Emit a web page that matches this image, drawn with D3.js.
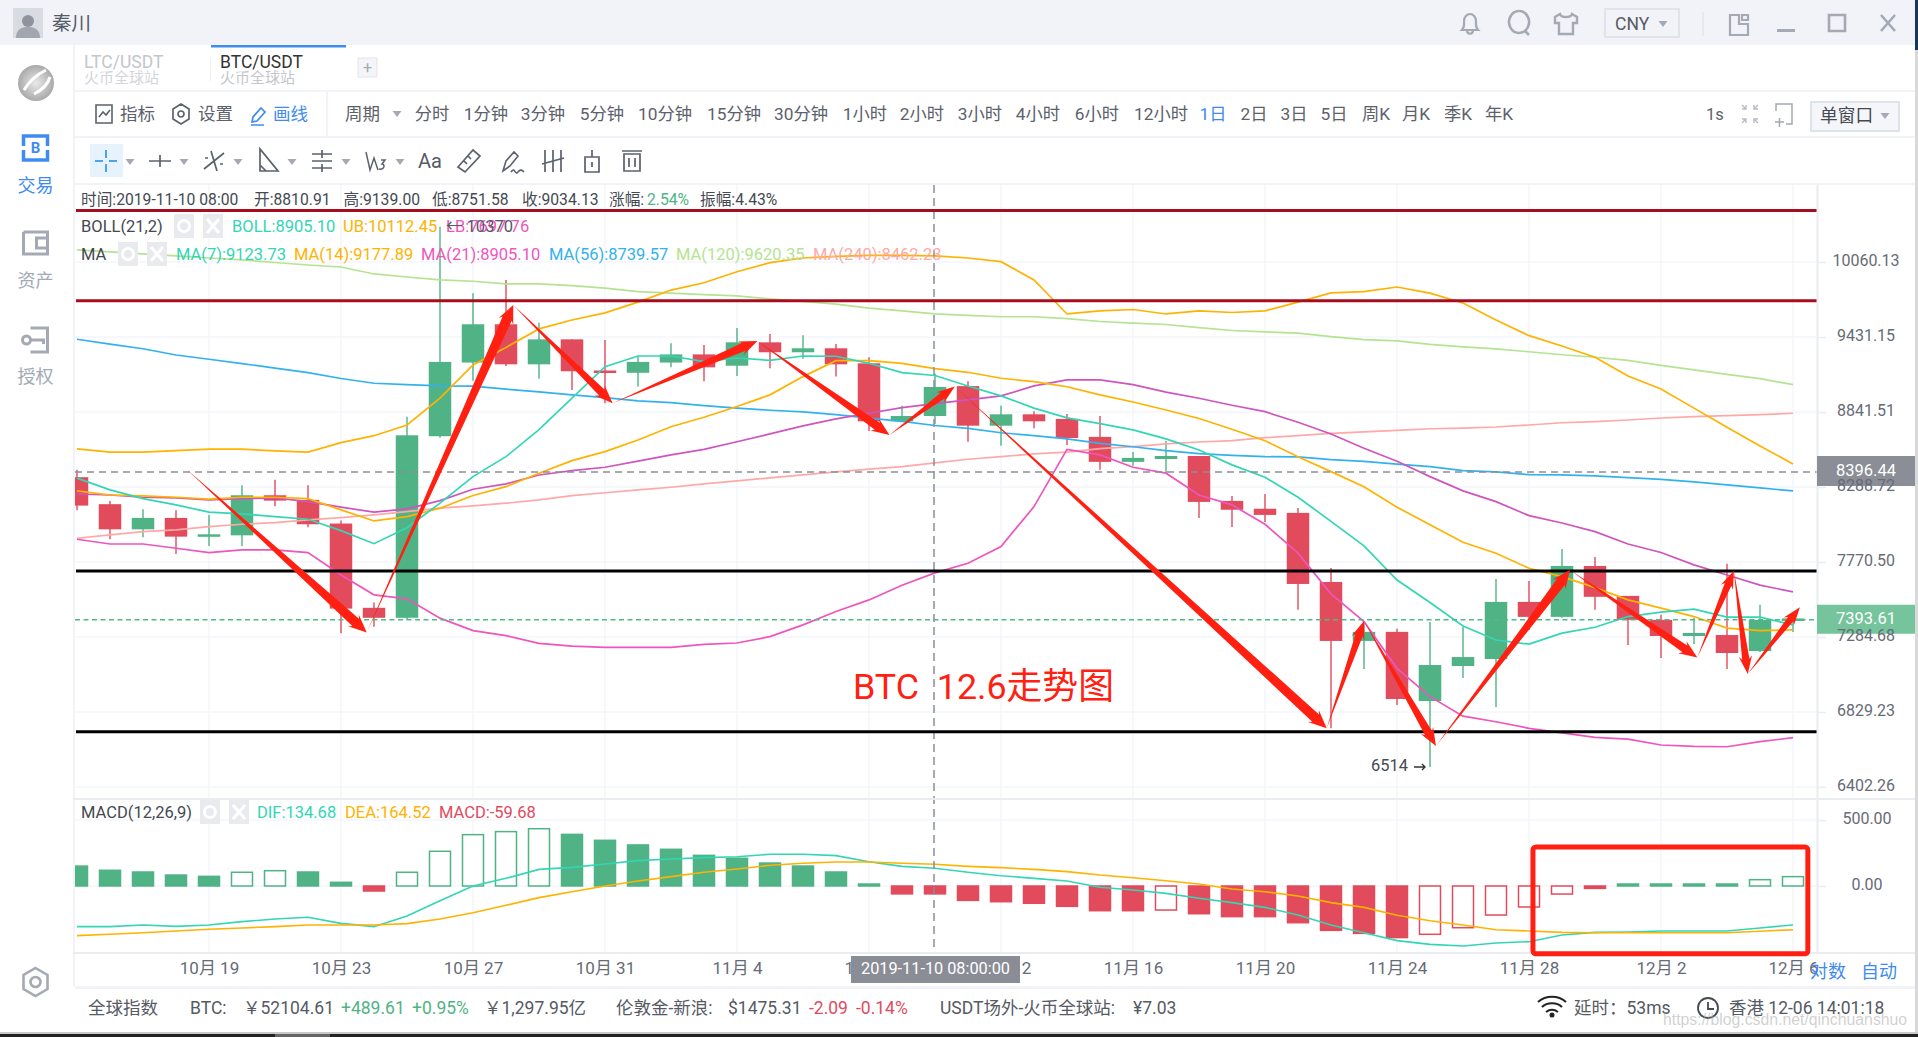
<!DOCTYPE html>
<html>
<head>
<meta charset="utf-8">
<script src="https://d3js.org/d3.v7.min.js"></script>
<style>
html, body { margin: 0; padding: 0; background: #fff; overflow: hidden; }
svg { display: block; font-family: Roboto, "Noto Sans CJK SC", sans-serif; }
text { white-space: pre; }
</style>
</head>
<body>
<div id="chart"></div>
<script>
// daily candles, 10-15 to 12-06
var opens  = [8359,8167,7992,8071,7942,7951,8230,8197,8032,7470,7406,8659,9226,9535,9212,9412,9163,9145,9226,9291,9201,9388,9308,9340,9220,8771,8810.91,9041,8738,8824,8789,8654,8470,8491,8513,8190,8135,8106,7638,7260,7317,6894,7105,7148,7508,7412,7744,7547,7393,7291,7297,7197,7386];
var highs  = [8412,8190,8131,8124,8091,8301,8340,8301,8053,7504,8806,10370,9793,9906,9548,9412,9407,9279,9381,9367,9505,9456,9445,9375,9268,8889,9139,9078,8889,8847,8827,8811,8543,8623,8513,8225,8239,8141,7731,7380,7336,7380,7348,7658,7645,7858,7804,7547,7425,7406,7758,7489,7402];
var lows   = [8124,7924,7938,7825,7879,7879,8153,8006,7309,7350,7393,8648,9083,9199,9099,9010,8909,9037,9188,9078,9119,9181,9257,9115,8698,8773,8751.58,8618,8589,8718,8594,8412,8441,8390,8071,8008,8043,7457,6735,7087,6870,6514,7032,6858,7329,7406,7457,7235,7154,7241,7087,7191,7316];
var closes = [8157,7992,8071,7942,7958,8230,8192,8027,7465,7406,8666,9231,9535,9212,9412,9157,9145,9231,9291,9188,9388,9308,9340,9212,8771,8811,9034.13,8738,8824,8771,8646,8470,8499,8513,8183,8128,8092,7625,7260,7317,6906,7111,7160,7508,7412,7744,7541,7393,7291,7310,7185,7393,7402];

var ma7   = [8352,8268,8206,8162,8111,8099,8080,8062,7983,7894,8003,8174,8363,8508,8709,8947,9193,9278,9278,9233,9262,9243,9278,9276,9220,9146,9123.73,9042,8965,8871,8797,8753,8706,8639,8557,8448,8359,8216,8047,7879,7651,7504,7354,7266,7240,7309,7346,7414,7442,7461,7410,7410,7361];
var ma14  = [8261,8232,8225,8216,8202,8216,8216,8206,8127,8050,8080,8139,8228,8291,8387,8479,8545,8631,8730,8802,8883,8973,9115,9241,9241,9220,9177.89,9149,9102,9076,9036,8973,8918,8857,8792,8711,8626,8508,8399,8291,8146,8023,7904,7829,7729,7673,7601,7521,7468,7414,7341,7325,7329];
var ma21  = [8239,8232,8216,8211,8197,8206,8211,8185,8146,8111,8134,8192,8273,8311,8375,8407,8431,8476,8521,8562,8618,8676,8736,8789,8832,8875,8905.10,8934,8965,9042,9089,9089,9052,8994,8947,8893,8844,8764,8676,8570,8474,8363,8261,8185,8087,8036,7976,7892,7834,7751,7684,7617,7573];
var ma56  = [9413,9374,9336,9286,9252,9218,9182,9147,9100,9063,9052,9042,9040,9017,8996,8973,8952,8926,8913,8890,8871,8855,8842,8822,8795,8770,8739.57,8718,8685,8663,8639,8606,8581,8552,8530,8518,8508,8506,8486,8474,8453,8436,8407,8397,8377,8375,8368,8356,8344,8325,8304,8282,8261];
var ma120 = [10166,10148,10131,10113,10095,10078,10056,10034,10017,9957,9931,9906,9895,9872,9872,9858,9836,9807,9794,9782,9771,9746,9724,9702,9669,9646,9620.35,9608,9597,9597,9581,9558,9544,9533,9508,9484,9473,9462,9434,9410,9399,9372,9351,9335,9312,9288,9268,9244,9204,9168,9132,9099,9052];
var ma240 = [7931,7954,7976,7988,8011,8027,8039,8057,8073,8092,8115,8139,8155,8174,8197,8227,8248,8268,8287,8311,8332,8354,8375,8397,8417,8436,8462.23,8489,8508,8528,8541,8567,8582,8602,8616,8626,8648,8663,8681,8692,8703,8715,8720,8728,8743,8760,8768,8781,8796,8806,8814,8821,8832];
var bollUp = [8565,8541,8541,8552,8563,8563,8550,8541,8611,8663,8743,8947,9207,9347,9497,9570,9629,9719,9820,9882,9976,10054,10095,10109,10118,10118,10112.45,10095,10063,9906,9620,9646,9657,9620,9646,9632,9646,9719,9796,9807,9846,9794,9711,9570,9442,9358,9268,9119,9019,8871,8726,8586,8455];
var bollLow = [7924,7892,7892,7863,7834,7852,7852,7834,7684,7554,7528,7404,7325,7293,7245,7228,7220,7220,7220,7239,7247,7287,7361,7446,7521,7617,7697.76,7762,7875,8150,8562,8521,8431,8388,8232,8162,8027,7830,7560,7382,7091,6920,6805,6772,6734,6708,6682,6672,6638,6630,6628,6657,6680];

var macdBars = [151,119,106,83,73,104,116,106,28,-38,104,263,389,412,434,391,346,311,278,232,210,174,151,106,15,-59.68,-59.68,-109,-119,-131,-154,-187,-187,-182,-210,-232,-232,-278,-336,-359,-391,-366,-316,-220,-159,-61,-18,15,15,15,15,48,71];
var dif = [-308,-308,-295,-306,-295,-270,-250,-237,-283,-308,-227,-111,0,58,126,141,167,192,205,215,222,240,240,230,184,149,134.68,104,78,58,38,-10,-30,-56,-93,-126,-162,-220,-295,-354,-414,-442,-455,-432,-422,-371,-351,-348,-341,-341,-341,-318,-295];
var dea = [-376,-366,-354,-341,-328,-318,-308,-295,-295,-295,-285,-250,-202,-146,-88,-43,0,38,71,104,129,157,172,182,182,172,164.52,149,139,126,109,83,63,40,15,-23,-43,-76,-126,-162,-222,-263,-295,-331,-341,-351,-354,-354,-354,-354,-354,-343,-331];

var priceTicks = [10060.13,9431.15,8841.51,8288.72,7770.50,7284.68,6829.23,6402.26];
var macdTicks = [500,0];
var dateTickIdx = [4,8,12,16,20,24,28,32,36,40,44,48,52];
var dateTickLabels = ["10月 19","10月 23","10月 27","10月 31","11月 4","11月 8","11月 12","11月 16","11月 20","11月 24","11月 28","12月 2","12月 6"];

var lastPrice = 7393.61, markPrice = 8396.44, crossIdx = 26;

// hand drawn marks on top of the chart
var levelPrices = [10516,9731,7711,6714];
var levelColors = ["#a60d1f","#a60d1f","#000","#000"];
var arrowIdx   = [3.32,8.78,13.22,16.23,20.62,24.62,26.6,37.87,39,41.18,45.24,49.1,50.21,50.63,52.21];
var arrowPrice = [8417,7313,9695,8909,9399,8668,9037,6734,7386,6632,7717,7158,7713,7056,7474];

var W = 1918, H = 1037;
var RED = "#e14b5c", GREEN = "#4fb386", TEAL = "#33d6b4", AMBER = "#ffb200", VIOLET = "#cf55bd",
    PINK = "#ee55bd", BLUE = "#33b1ee", LIME = "#b5e391", SALMON = "#ffa8a8", ARROW = "#ff2012",
    GRIDC = "#f3f6fa", LINEC = "#e9ecf1", TXT = "#5c616c", BLUEUI = "#3f8bef", DARK = "#444952";

var svg = d3.select("#chart").append("svg").attr("width", W).attr("height", H);

var x = d3.scaleLinear().domain([0, 52]).range([77, 1793]);
var yPrice = d3.scaleLog().domain([6402.26, 10060.13]).range([787, 262]);
var yMacd = d3.scaleLinear().domain([0, 500]).range([886, 820]);

function txt(px, py, s, color, size, anchor, g) {
  return (g || svg).append("text").attr("x", px).attr("y", py).attr("dy", "0.35em")
    .attr("fill", color).attr("font-size", size).attr("text-anchor", anchor || "start").text(s);
}
function box(px, py, w, h, fill) {
  return svg.append("rect").attr("x", px).attr("y", py).attr("width", w).attr("height", h).attr("fill", fill);
}
function icon(px, py, d, color, sw) {
  return svg.append("path").attr("transform", "translate(" + px + "," + py + ")").attr("d", d)
    .attr("fill", "none").attr("stroke", color || "#5c616c").attr("stroke-width", sw || 1.6);
}
function caret(px, py, color) {
  svg.append("path").attr("d", "M" + (px - 4.5) + "," + (py - 3) + "h9l-4.5,6z").attr("fill", color || "#a4a9b3");
}

// frame
box(0, 0, W, 45, "#f1f3f8");
box(73, 45, 2, 942, "#f1f3f8");
box(75, 90, W - 75, 2, "#f1f3f8");
box(75, 136, W - 75, 2, "#f1f3f8");
box(75, 183, W - 75, 2, "#f1f3f8");
box(326, 92, 2, 44, "#f1f3f8");
box(75, 986, W - 75, 3, "#f1f3f8");

// grid
var gridG = svg.append("g");
gridG.selectAll("line.h").data(priceTicks).join("line").attr("class", "h")
  .attr("x1", 75).attr("x2", 1817).attr("y1", d => yPrice(d)).attr("y2", d => yPrice(d))
  .attr("stroke", GRIDC).attr("stroke-width", 1.5);
gridG.selectAll("line.m").data(macdTicks).join("line").attr("class", "m")
  .attr("x1", 75).attr("x2", 1817).attr("y1", d => yMacd(d)).attr("y2", d => yMacd(d))
  .attr("stroke", GRIDC).attr("stroke-width", 1.5);
gridG.selectAll("line.v").data(dateTickIdx).join("line").attr("class", "v")
  .attr("x1", d => x(d)).attr("x2", d => x(d)).attr("y1", 185).attr("y2", 953)
  .attr("stroke", GRIDC).attr("stroke-width", 1.5);

svg.append("defs").append("clipPath").attr("id", "plot").append("rect")
  .attr("x", 75).attr("y", 185).attr("width", 1742).attr("height", 768);
var plot = svg.append("g").attr("clip-path", "url(#plot)");

// macd histogram, rising bars are hollow (very short ones just look solid)
var barW = 22.5;
plot.selectAll("rect.macd").data(macdBars).join("rect").attr("class", "macd")
  .attr("x", (d, i) => x(i) - barW / 2 + 0.75)
  .attr("width", barW - 1.5)
  .attr("y", d => Math.min(yMacd(d), yMacd(0)))
  .attr("height", d => Math.max(Math.abs(yMacd(d) - yMacd(0)), 1.5))
  .attr("stroke", d => d >= 0 ? GREEN : RED)
  .attr("stroke-width", 1.5)
  .attr("fill", (d, i) => (i > 0 && d > macdBars[i - 1] && Math.abs(d) > 20) ? "#fff" : (d >= 0 ? GREEN : RED));

var lineMacd = d3.line().x((d, i) => x(i)).y(d => yMacd(d));
plot.append("path").attr("d", lineMacd(dif)).attr("fill", "none").attr("stroke", TEAL).attr("stroke-width", 1.6);
plot.append("path").attr("d", lineMacd(dea)).attr("fill", "none").attr("stroke", AMBER).attr("stroke-width", 1.6);

// candles
var candle = plot.selectAll("g.candle").data(d3.range(opens.length)).join("g").attr("class", "candle");
candle.append("line")
  .attr("x1", i => x(i)).attr("x2", i => x(i))
  .attr("y1", i => yPrice(highs[i])).attr("y2", i => yPrice(lows[i]))
  .attr("stroke", i => closes[i] >= opens[i] ? GREEN : RED).attr("stroke-width", 1.4);
candle.append("rect")
  .attr("x", i => x(i) - barW / 2).attr("width", barW)
  .attr("y", i => yPrice(Math.max(opens[i], closes[i])))
  .attr("height", i => Math.max(Math.abs(yPrice(opens[i]) - yPrice(closes[i])), 2.5))
  .attr("fill", i => closes[i] >= opens[i] ? GREEN : RED);

// averages and bands
var linePrice = d3.line().x((d, i) => x(i)).y(d => yPrice(d));
[[ma120, LIME], [ma240, SALMON], [ma56, BLUE], [bollUp, AMBER], [bollLow, PINK], [ma21, VIOLET], [ma14, AMBER], [ma7, TEAL]].forEach(function (s) {
  plot.append("path").attr("d", linePrice(s[0])).attr("fill", "none").attr("stroke", s[1]).attr("stroke-width", 1.7);
});

// dashed price lines and crosshair
svg.append("line").attr("x1", 75).attr("x2", 1817).attr("y1", yPrice(markPrice)).attr("y2", yPrice(markPrice))
  .attr("stroke", "#8b8f98").attr("stroke-width", 1.5).attr("stroke-dasharray", "7 5");
svg.append("line").attr("x1", 75).attr("x2", 1817).attr("y1", yPrice(lastPrice)).attr("y2", yPrice(lastPrice))
  .attr("stroke", "#4cbb85").attr("stroke-width", 1.3).attr("stroke-dasharray", "5 3.5");
svg.append("line").attr("x1", x(crossIdx) - 1).attr("x2", x(crossIdx) - 1).attr("y1", 185).attr("y2", 953)
  .attr("stroke", "#87909c").attr("stroke-width", 1.5).attr("stroke-dasharray", "8 5");

// level lines
svg.selectAll("line.level").data(levelPrices).join("line").attr("class", "level")
  .attr("x1", 76).attr("x2", 1817).attr("y1", d => yPrice(d)).attr("y2", d => yPrice(d))
  .attr("stroke", (d, i) => levelColors[i]).attr("stroke-width", 3);

// pane borders
box(73, 798, 1842, 2, LINEC);
box(73, 952, 1842, 2, LINEC);
box(1816.5, 185, 2, 768, LINEC);

// price labels behind the axis text
box(1817, yPrice(markPrice) - 16, 98, 30, "#8b8e97");
box(1817, yPrice(lastPrice) - 15, 98, 29, "#75c49c");

// axes
var axisP = svg.append("g").attr("transform", "translate(1817,0)")
  .call(d3.axisRight(yPrice).tickValues(priceTicks).tickFormat(d3.format(".2f")).tickSize(9));
var axisM = svg.append("g").attr("transform", "translate(1817,0)")
  .call(d3.axisRight(yMacd).tickValues(macdTicks).tickFormat(d3.format(".2f")).tickSize(9));
var axisD = svg.append("g").attr("transform", "translate(0,953)")
  .call(d3.axisBottom(x).tickValues(dateTickIdx).tickFormat((d, i) => dateTickLabels[i]).tickSize(0));
[axisP, axisM, axisD].forEach(function (a) {
  a.attr("font-family", null).attr("font-size", null);
  a.select(".domain").remove();
  a.selectAll("line").attr("stroke", LINEC).attr("stroke-width", 1.5);
  a.selectAll("text").attr("fill", "#666b76").attr("font-size", 16);
});
axisP.selectAll("text").attr("text-anchor", "middle").attr("x", 49).attr("dy", "0.2em");
axisM.selectAll("text").attr("text-anchor", "middle").attr("x", 50).attr("dy", "0.2em");
axisD.selectAll("text").attr("y", 15).attr("dy", "0.35em").attr("font-size", 17);

txt(1866, yPrice(markPrice) - 2, d3.format(".2f")(markPrice), "#fff", 16.5, "middle");
txt(1866, yPrice(lastPrice) - 2, d3.format(".2f")(lastPrice), "#fff", 16.5, "middle");
txt(1828, 972, "对数", BLUEUI, 18, "middle");
txt(1879, 972, "自动", BLUEUI, 18, "middle");

box(851, 956, 169, 27, "#8a8d96");
txt(935.5, 968, "2019-11-10 08:00:00", "#fff", 16.3, "middle");

// legends
var infoX = [81, 254, 343.5, 432, 522, 609, 647, 700];
var infoText = ["时间:2019-11-10 08:00", "开:8810.91", "高:9139.00", "低:8751.58", "收:9034.13", "涨幅:", "2.54%", "振幅:4.43%"];
infoText.forEach(function (s, i) { txt(infoX[i], 200, s, i == 6 ? GREEN : DARK, 15.7); });

function toggles(px, py) {
  box(px - 10, py - 12, 20, 24, "#e8eaee");
  svg.append("circle").attr("cx", px).attr("cy", py).attr("r", 5.5).attr("fill", "none").attr("stroke", "#fff").attr("stroke-width", 3);
  box(px + 19, py - 12, 20, 24, "#e8eaee");
  icon(px + 29, py, "M-6,-7L6,7M6,-7L-6,7", "#fff", 3);
}
txt(81, 226, "BOLL(21,2)", DARK, 16.5);
toggles(184, 226);
txt(232, 226, "BOLL:8905.10", TEAL, 16.5);
txt(343, 226, "UB:10112.45", AMBER, 16.5);
txt(446, 226, "LB:7697.76", PINK, 16.5);
txt(446, 226, "← 10370", "#555a64", 16.5);

txt(81, 254, "MA", DARK, 16.5);
toggles(128, 254);
txt(176, 254, "MA(7):9123.73", TEAL, 16.5);
txt(294, 254, "MA(14):9177.89", AMBER, 16.5);
txt(421, 254, "MA(21):8905.10", PINK, 16.5);
txt(549, 254, "MA(56):8739.57", BLUE, 16.5);
txt(676, 254, "MA(120):9620.35", LIME, 16.5);
txt(813, 254, "MA(240):8462.23", SALMON, 16.5);

txt(81, 812, "MACD(12,26,9)", DARK, 16.5);
toggles(210, 812);
txt(257, 812, "DIF:134.68", TEAL, 16.5);
txt(345, 812, "DEA:164.52", AMBER, 16.5);
txt(439, 812, "MACD:-59.68", RED, 16.5);

// low marker
txt(1371, 765, "6514", DARK, 16.4);
icon(1414, 767, "M0,0H11M8,-3L11,0L8,3", "#333", 1.4);

// arrows, thin tail widening up to the head
function arrowPath(a, b) {
  var dx = b[0] - a[0], dy = b[1] - a[1], len = Math.sqrt(dx * dx + dy * dy);
  var ux = dx / len, uy = dy / len, nx = -uy, ny = ux;
  var head = 15, w = Math.min(5, 2.5 + len / 90), barb = w + 3;
  var p = function (along, off) { return [b[0] - ux * along + nx * off, b[1] - uy * along + ny * off]; };
  return d3.line()([a, p(head, w), p(head + 3, barb), b, p(head + 3, -barb), p(head, -w)]) + "Z";
}
var arrowPts = arrowIdx.map((d, i) => [x(d), yPrice(arrowPrice[i])]);
svg.selectAll("path.arrow").data(arrowPts.slice(1)).join("path").attr("class", "arrow")
  .attr("d", (d, i) => arrowPath(arrowPts[i], d))
  .attr("fill", ARROW);

// red box around the recent macd bars
svg.append("rect").attr("x", x(44.12)).attr("y", yMacd(296)).attr("width", x(52.45) - x(44.12)).attr("height", yMacd(-514) - yMacd(296))
  .attr("rx", 3).attr("fill", "none").attr("stroke", ARROW).attr("stroke-width", 5);

txt(853, 686, "BTC  12.6走势图", ARROW, 35.8);

// title bar
box(13, 8, 30, 30, "#d8dbe1");
svg.append("circle").attr("cx", 28).attr("cy", 21).attr("r", 6).attr("fill", "#8f939c");
svg.append("path").attr("d", "M16,38c0,-9 6,-11 12,-11s12,2 12,11z").attr("fill", "#a2a6ae");
txt(52, 23, "秦川", "#555a64", 19.5);

icon(1470, 23, "M-8,7c3,-3 2,-6 2,-9c0,-4 3,-7 6,-7s6,3 6,7c0,3 -1,6 2,9zM-3,7c0,5 6,5 6,0", "#a4a9b3", 2.2);
icon(1519, 22, "M0,-11a10,11 0 1,0 .1,0M6,9l4,4", "#a4a9b3", 2.6);
icon(1566, 24, "M-6,-10l-5,3v6h4v11h14v-11h4v-6l-5,-3c-1,4 -11,4 -12,0z", "#a4a9b3", 2.4);
svg.append("rect").attr("x", 1605).attr("y", 9).attr("width", 74).attr("height", 28).attr("fill", "#f1f3f8").attr("stroke", "#e0e3e8").attr("stroke-width", 2);
txt(1615, 24, "CNY", "#555a64", 17.5);
caret(1663, 24);
box(1702, 12, 2, 24, "#e6e8ee");
icon(1739, 24, "M0,-9h-9v20h18v-11h-9zM3,-9h6v5h-6z", "#a4a9b3", 2.2);
box(1777, 29, 18, 3, "#a4a9b3");
icon(1837, 23, "M-8,-8h16v16h-16z", "#a4a9b3", 2.6);
icon(1888, 23, "M-7,-8L7,8M7,-8L-7,8", "#a4a9b3", 2.6);

// tabs
box(211, 45, 135, 2.5, BLUEUI);
box(210, 57, 1, 24, "#eceef2");
txt(84, 62, "LTC/USDT", "#c3c6cc", 17.5);
txt(84, 78, "火币全球站", "#d3d5da", 15);
txt(220, 62, "BTC/USDT", "#333", 17.5);
txt(220, 78, "火币全球站", "#c3c6cc", 15);
svg.append("rect").attr("x", 358).attr("y", 58).attr("width", 19).attr("height", 19).attr("fill", "#f4f5f8").attr("stroke", "#e3e5ea");
txt(367.5, 67, "+", "#a4a9b3", 16, "middle");

// period toolbar
icon(96, 105, "M0,0h16v18h-16zM3,12l4,-5l3,3l4,-5", "#5c616c", 1.6);
txt(120, 114, "指标", TXT, 17.5);
icon(181, 114, "M0,-10l8,5v10l-8,5l-8,-5v-10zM3,0a3,3 0 1,1 -6,0a3,3 0 1,1 6,0", "#5c616c", 1.7);
txt(198, 114, "设置", TXT, 17.5);
icon(258, 115, "M-6,7l1,-5l8,-9l4,4l-8,9zM-7,10h13", BLUEUI, 1.7);
txt(273, 114, "画线", BLUEUI, 17.5);
txt(345, 114, "周期", TXT, 17.5);
caret(397, 114);

var periodLabels = ["分时","1分钟","3分钟","5分钟","10分钟","15分钟","30分钟","1小时","2小时","3小时","4小时","6小时","12小时","1日","2日","3日","5日","周K","月K","季K","年K"];
var periodX = [432,486,543,602,665,734,801,865,922,980,1038,1097,1161,1213,1254,1294,1334,1376,1416,1458,1499];
periodLabels.forEach(function (s, i) {
  txt(periodX[i], 114, s, s == "1日" ? BLUEUI : TXT, 17.3, "middle");
});
txt(1715, 114, "1s", TXT, 16.5, "middle");
icon(1750, 114, "M-8,-9l4,4M8,-9l-4,4M-8,9l4,-4M8,9l-4,-4M-4,-9v4h-4M4,-9v4h4M-4,9v-4h-4M4,9v-4h4", "#b8bcc4", 1.4);
icon(1784, 114, "M-8,-3v-7h16v20h-6M-9,8h9M-4.5,4v9", "#a4a9b3", 1.5);
svg.append("rect").attr("x", 1811).attr("y", 102).attr("width", 88).attr("height", 29).attr("fill", "#f4f6f9").attr("stroke", "#dfe2e7").attr("stroke-width", 2);
txt(1820, 116, "单窗口", DARK, 17.7);
caret(1885, 116);

// drawing toolbar
box(90, 144, 33, 33, "#e6f3fd");
icon(106, 161, "M-11,0H-3M3,0H11M0,-11V-3M0,3V11", "#4ca3ef", 2);
[130, 184, 238, 292, 346, 400].forEach(function (px) { caret(px, 162); });
icon(160, 161, "M-11,0H11M0,-6V6", "#5c616c", 1.7);
icon(214, 161, "M-10,8L10,-8M-3,-10L3,10M-9,-3h3M6,3h3", "#5c616c", 1.7);
icon(268, 161, "M-8,-12V10H10zM-8,4l6,6", "#5c616c", 1.7);
icon(322, 161, "M-10,-7H10M-10,0H10M-10,7H10M0,-11V-3M0,3V11", "#5c616c", 1.7);
icon(376, 161, "M-10,-9l4,18l4,-12l4,12M5,-1h4l-3,4c3,0 3,6 -3,5", "#5c616c", 1.5);
txt(430, 161, "Aa", "#555a64", 20, "middle");
icon(469, 161, "M-11,6L4,-11L11,-5L-4,11zM-5,0l3,3M-1,-5l3,3", "#5c616c", 1.7);
icon(513, 162, "M-10,9l3,-10l8,-9l4,4l-8,10zM-2,10c4,-6 4,4 7,0c2,-3 4,-2 6,0", "#5c616c", 1.6);
icon(553, 161, "M-8,-11V11M0,-11V11M8,-11V11M-11,3L11,-3", "#5c616c", 1.7);
icon(592, 161, "M-7,-4h14v15h-14zM0,-11v7M0,1v5", "#5c616c", 1.7);
icon(632, 161, "M-8,-7h16v17h-16zM-10,-10h20M-3,-3v9M3,-3v9", "#5c616c", 1.7);

// side bar
var logoGrad = svg.append("defs").append("radialGradient").attr("id", "logo");
logoGrad.append("stop").attr("offset", "0%").attr("stop-color", "#e9e9e9");
logoGrad.append("stop").attr("offset", "100%").attr("stop-color", "#a9a9a9");
svg.append("ellipse").attr("cx", 36).attr("cy", 83).attr("rx", 18).attr("ry", 18).attr("fill", "url(#logo)");
icon(36, 82, "M-12,8C-6,-2 2,-8 10,-12M-2,12C6,8 12,2 14,-5", "#fff", 3);

icon(35.5, 148, "M-9,-12H-12V-2M-12,2V12H12V2M12,-2V-12H-9", BLUEUI, 3.5);
txt(35.5, 148, "B", BLUEUI, 15, "middle").attr("font-weight", "bold");
txt(35.5, 186, "交易", BLUEUI, 18, "middle");
icon(35.5, 243, "M-12,-11H12V-5M12,5V11H-12V-11M12,-5H1V5H12M12,-5V5", "#a4a9b3", 3);
txt(35.5, 281, "资产", "#a4a9b3", 18, "middle");
icon(35.5, 340, "M-5,-12H12V12H-5M-13,0a4,4 0 1,0 8,0a4,4 0 1,0 -8,0M-5,0H8v4", "#a4a9b3", 3);
txt(35.5, 377, "授权", "#a4a9b3", 18, "middle");
icon(35.5, 982, "M0,-14L12,-7V7L0,14L-12,7V-7zM5,0a5,5 0 1,1 -10,0a5,5 0 1,1 10,0", "#a4a9b3", 2.6);

// status bar
var stat = [
  [88, "全球指数", "#555a64"], [190, "BTC:", "#555a64"], [243, "￥52104.61", "#555a64"], [341, "+489.61", GREEN], [412, "+0.95%", GREEN],
  [484, "￥1,297.95亿", "#555a64"], [616, "伦敦金-新浪:", "#555a64"], [728, "$1475.31", "#555a64"], [809, "-2.09", RED], [856, "-0.14%", RED],
  [940, "USDT场外-火币全球站:", "#555a64"], [1133, "¥7.03", "#555a64"], [1574, "延时：53ms", "#555a64"], [1729, "香港 12-06 14:01:18", "#555a64"]
];
stat.forEach(function (s) { txt(s[0], 1008, s[1], s[2], 17.5); });

icon(1552, 1008, "M-14,-6C-6,-13 6,-13 14,-6M-10,-1C-5,-6 5,-6 10,-1M-6,4C-2,1 2,1 6,4", "#222", 2);
svg.append("circle").attr("cx", 1552).attr("cy", 1015).attr("r", 2.5).attr("fill", "#222");
icon(1708, 1008, "M10,0a10,10 0 1,1 -20,0a10,10 0 1,1 20,0M0,-6V1H6", DARK, 1.8);

txt(1663, 1019, "https://blog.csdn.net/qinchuanshuo", "rgba(170,170,170,0.55)", 15.8).attr("font-family", "Liberation Sans");

// window edges
box(1915, 45, 3, H - 45, "#d9d9d9");
box(1915, 0, 3, 50, "#17365c");
box(0, 1032, W, 2, "#c9c9c9");
box(0, 1034, W, 3, "#222");
box(275, 1034, 55, 3, "#666");
</script>
</body>
</html>
